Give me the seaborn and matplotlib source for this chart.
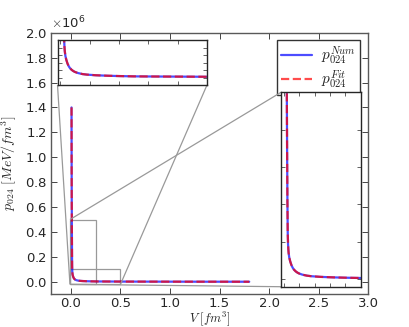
import numpy as np
import pandas as pd
import matplotlib
matplotlib.use("Agg")
import matplotlib.pyplot as plt
import seaborn as sns
from matplotlib.ticker import MultipleLocator, ScalarFormatter
from mpl_toolkits.axes_grid1.inset_locator import mark_inset

# volume [fm^3] and pressure [MeV/fm^3]
volume = [0.006, 0.007, 0.008, 0.009, 0.010, 0.011, 0.012, 0.013, 0.014, 0.015,
          0.017, 0.020, 0.024, 0.028, 0.032, 0.038, 0.044, 0.050, 0.060, 0.075,
          0.090, 0.120, 0.160, 0.200, 0.250, 0.300, 0.400, 0.500, 0.700, 1.000,
          1.400, 1.800]
p_num = [1.40e6, 0.95e6, 0.68e6, 0.50e6, 0.34e6, 0.21e6, 0.125e6, 0.095e6, 0.080e6, 0.070e6,
         0.058e6, 0.048e6, 0.038e6, 0.031e6, 0.026e6, 0.021e6, 0.0175e6, 0.0150e6, 0.0122e6, 0.0095e6,
         0.0080e6, 0.0063e6, 0.0050e6, 0.0041e6, 0.0033e6, 0.0030e6, 0.0026e6, 0.0022e6, 0.0018e6, 0.0014e6,
         0.0011e6, 0.0009e6]
p_fit = list(p_num)

label_num = r"$p_{024}^{Num}$"
label_fit = r"$p_{024}^{Fit}$"

sns.set_style("ticks")
plt.rcParams["mathtext.fontset"] = "cm"
plt.rcParams["xtick.direction"] = "in"
plt.rcParams["ytick.direction"] = "in"
plt.rcParams["xtick.top"] = True
plt.rcParams["ytick.right"] = True

fig = plt.figure(figsize=(4.09, 3.27), dpi=100)
ax = fig.add_axes([0.125, 0.1, 0.775, 0.8])


def draw(a, legend=False):
    sns.lineplot(x=volume, y=p_num, ax=a, color="blue", lw=1.6, alpha=0.7,
                 label=label_num if legend else None)
    sns.lineplot(x=volume, y=p_fit, ax=a, color="red", lw=1.6, alpha=0.7,
                 linestyle="--", label=label_fit if legend else None)


draw(ax, legend=True)
ax.set_xlim(-0.2, 3.0)
ax.set_ylim(-0.1e6, 2.0e6)
ax.xaxis.set_major_locator(MultipleLocator(0.5))
ax.yaxis.set_major_locator(MultipleLocator(0.2e6))
fmt = ScalarFormatter(useMathText=True)
fmt.set_powerlimits((0, 0))
ax.yaxis.set_major_formatter(fmt)
ax.tick_params(labelsize=9.5, length=4, width=0.6, pad=3)
ax.tick_params(axis="x", pad=2)
ax.yaxis.get_offset_text().set_fontsize(9.5)
ax.set_xlabel(r"$V\ [fm^3]$", fontsize=9)
ax.xaxis.set_label_coords(0.5, -0.058)
ax.set_ylabel(r"$p_{024}\ [MeV/fm^3]$", fontsize=10, labelpad=4)
for s in ax.spines.values():
    s.set_color("0.35")
    s.set_linewidth(1.0)
leg = ax.legend(loc="upper right", fontsize=11, fancybox=False, edgecolor="0.2",
                framealpha=1, handlelength=2.0, borderpad=0.3, labelspacing=0.1,
                handletextpad=0.6, borderaxespad=0.5)

# top-left zoom
ins1 = fig.add_axes([0.1406, 0.740, 0.3655, 0.1364])
draw(ins1)
ins1.set_xlim(-0.01, 0.5)
ins1.set_ylim(-0.02e6, 0.1e6)
ins1.xaxis.set_major_locator(MultipleLocator(0.1))
ins1.yaxis.set_major_locator(MultipleLocator(0.02e6))

# right zoom
ins2 = fig.add_axes([0.687, 0.1232, 0.1949, 0.5945])
draw(ins2)
ins2.set_xlim(-0.01, 0.25)
ins2.set_ylim(-0.02e6, 0.5e6)
ins2.xaxis.set_major_locator(MultipleLocator(0.05))
ins2.yaxis.set_major_locator(MultipleLocator(0.1e6))

for a in (ins1, ins2):
    a.set_xticklabels([])
    a.set_yticklabels([])
    a.tick_params(length=3, width=0.5, top=True, right=True)
    for s in a.spines.values():
        s.set_color("0.15")
        s.set_linewidth(1.0)

mark_inset(ax, ins1, loc1=3, loc2=4, fc="none", ec="0.6", lw=0.9)
mark_inset(ax, ins2, loc1=2, loc2=3, fc="none", ec="0.6", lw=0.9)

fig.savefig("out.png", dpi=100)
